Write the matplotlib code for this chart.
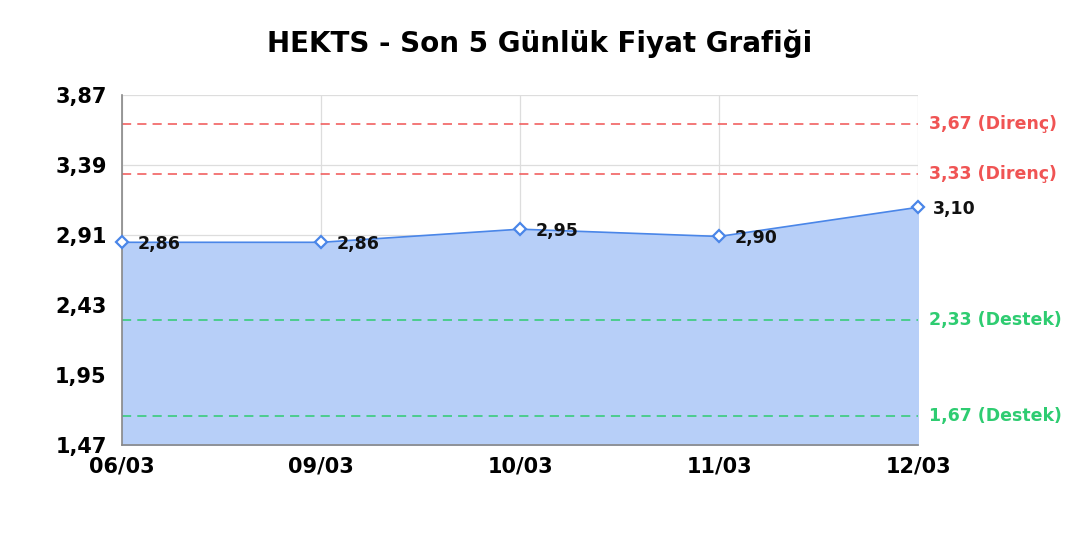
import matplotlib
matplotlib.use("Agg")
import matplotlib.pyplot as plt

plt.rcParams["font.family"] = ["DejaVu Sans"]

dates = ["06/03", "09/03", "10/03", "11/03", "12/03"]
prices = [2.86, 2.86, 2.95, 2.90, 3.10]
resistance = [3.67, 3.33]
support = [2.33, 1.67]
y_ticks = [1.47, 1.95, 2.43, 2.91, 3.39, 3.87]

line_color = "#4a86e8"
fill_color = "#b7cff8"
red = "#f05454"
green = "#2ecc71"

fig = plt.figure(figsize=(10.8, 5.4), dpi=100)
ax = fig.add_axes([0.113, 0.176, 0.737, 0.648])

x = list(range(len(dates)))
ax.fill_between(x, y_ticks[0], prices, color=fill_color, zorder=1)
ax.plot(x, prices, color=line_color, lw=1.2, zorder=3, clip_on=False,
        marker="D", markersize=6, markerfacecolor="white",
        markeredgecolor=line_color, markeredgewidth=1.6)

for xi, p in zip(x, prices):
    ax.annotate(f"{p:.2f}".replace(".", ","), (xi, p), xytext=(11, -1),
                textcoords="offset points", ha="left", va="center",
                fontsize=12.5, fontweight="bold", color="#111111", zorder=4)

for r in resistance:
    ax.axhline(r, color=red, ls=(0, (6, 4)), lw=1.1, zorder=2)
    ax.text(1.014, r, f"{r:.2f} (Direnç)".replace(".", ","), transform=ax.get_yaxis_transform(),
            ha="left", va="center", color=red, fontsize=12.5, fontweight="bold")
for s in support:
    ax.axhline(s, color=green, ls=(0, (6, 4)), lw=1.1, zorder=2)
    ax.text(1.014, s, f"{s:.2f} (Destek)".replace(".", ","), transform=ax.get_yaxis_transform(),
            ha="left", va="center", color=green, fontsize=12.5, fontweight="bold")

ax.set_xlim(0, len(dates) - 1)
ax.set_ylim(y_ticks[0], y_ticks[-1])
ax.set_xticks(x)
ax.set_xticklabels(dates, fontsize=15, fontweight="bold")
ax.set_yticks(y_ticks)
ax.set_yticklabels([f"{v:.2f}".replace(".", ",") for v in y_ticks], fontsize=15, fontweight="bold")
ax.tick_params(axis="x", length=0, pad=8)
ax.tick_params(axis="y", length=0, pad=11)
ax.grid(True, color="#dddddd", lw=0.9, zorder=0)
ax.set_axisbelow(True)
for side in ["top", "right"]:
    ax.spines[side].set_visible(False)
for side in ["left", "bottom"]:
    ax.spines[side].set_color("#888888")
    ax.spines[side].set_linewidth(1.2)

fig.suptitle("HEKTS - Son 5 Günlük Fiyat Grafiği", fontsize=20, fontweight="bold", y=0.945)

fig.savefig("out.png", dpi=100, facecolor="white")
